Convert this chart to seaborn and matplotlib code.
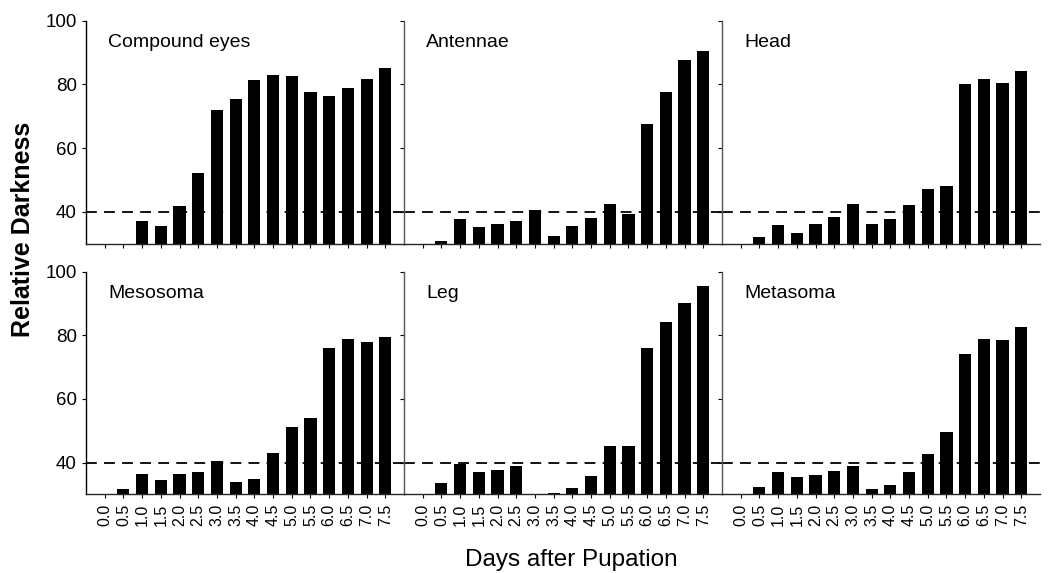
import seaborn as sns
import pandas as pd
import numpy as np
import matplotlib.pyplot as plt

days = ["0.0", "0.5", "1.0", "1.5", "2.0", "2.5", "3.0", "3.5",
        "4.0", "4.5", "5.0", "5.5", "6.0", "6.5", "7.0", "7.5"]

# values under 30 sit below the axis floor and are not visible in the original
compound_eyes = [29.0, 29.5, 37.2, 35.6, 41.8, 52.1, 72.0, 75.5,
                 81.3, 83.0, 82.7, 77.5, 76.4, 78.7, 81.8, 85.2]
antennae = [29.0, 30.7, 37.6, 35.1, 36.3, 37.0, 40.6, 32.4,
            35.6, 38.1, 42.4, 39.4, 67.7, 77.5, 87.5, 90.6]
head = [29.0, 32.0, 36.0, 33.3, 36.3, 38.3, 42.4, 36.3,
        37.8, 42.1, 47.3, 48.2, 80.0, 81.6, 80.5, 84.1]
mesosoma = [29.0, 31.6, 36.4, 34.6, 36.4, 37.0, 40.5, 33.9,
            35.0, 43.0, 51.1, 54.0, 75.9, 78.9, 77.8, 79.4]
leg = [29.0, 33.7, 39.6, 37.0, 37.8, 38.9, 30.2, 30.4,
       32.0, 35.7, 45.2, 45.2, 76.1, 84.2, 90.1, 95.6]
metasoma = [29.0, 32.3, 37.1, 35.5, 36.1, 37.4, 39.1, 31.6,
            32.9, 37.1, 42.7, 49.7, 74.1, 78.7, 78.4, 82.5]

panels = ["Compound eyes", "Antennae", "Head", "Mesosoma", "Leg", "Metasoma"]
series = [compound_eyes, antennae, head, mesosoma, leg, metasoma]
threshold = 40

sns.set_style("ticks")
plt.rcParams["font.family"] = ["Liberation Sans", "DejaVu Sans"]
plt.rcParams["text.color"] = "black"

fig, axes = plt.subplots(2, 3, figsize=(10.54, 5.73), dpi=100, sharex=True, sharey=True)
fig.subplots_adjust(left=0.0816, right=0.9867, top=0.964, bottom=0.137,
                    wspace=0, hspace=0.125)

for i, (ax, name, vals) in enumerate(zip(axes.flat, panels, series)):
    df = pd.DataFrame({"day": days, "value": vals})
    sns.barplot(data=df, x="day", y="value", ax=ax, color="black",
                width=0.65, linewidth=0, saturation=1)
    ax.axhline(threshold, color="black", ls=(0, (6, 4)), lw=1.3, zorder=0)
    ax.set_xlim(-1, 16)
    ax.set_ylim(30, 100)
    ax.set_yticks([40, 60, 80, 100])
    ax.set_xlabel("")
    ax.set_ylabel("")
    ax.text(0.07, 0.90, name, transform=ax.transAxes, fontsize=14, va="center")
    sns.despine(ax=ax)
    ax.spines["left"].set_color("black" if i % 3 == 0 else "#555555")
    ax.spines["left"].set_linewidth(1.0)
    ax.spines["bottom"].set_linewidth(1.0)
    ax.tick_params(axis="both", direction="out", length=3, width=0.8, colors="black")
    ax.tick_params(axis="y", labelsize=13.5)
    ax.tick_params(axis="x", labelsize=11.5)
    if i >= 3:
        ax.tick_params(axis="x", labelrotation=90)

fig.text(0.022, 0.60, "Relative Darkness", rotation=90, fontsize=18,
         fontweight="bold", ha="center", va="center")
fig.text(0.542, 0.023, "Days after Pupation", fontsize=17.5, ha="center", va="center")

fig.savefig("out.png", dpi=100)
